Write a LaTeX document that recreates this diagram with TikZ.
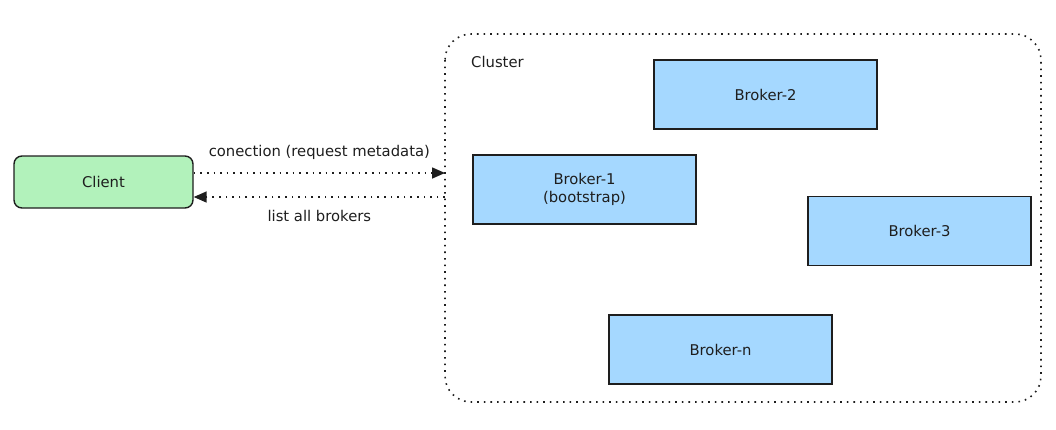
\documentclass[tikz,border=0pt]{standalone}
\usepackage{fontspec}
\setmainfont{DejaVu Sans}
\usetikzlibrary{arrows.meta}
\definecolor{brokerblue}{HTML}{A5D8FF}
\definecolor{clientgreen}{HTML}{B2F2BB}
\definecolor{inkc}{HTML}{1E1E1E}
\begin{document}
\begin{tikzpicture}[x=1pt,y=-1pt,
  txt/.style={font=\fontsize{14.8}{18}\selectfont, text=inkc},
  broker/.style={txt, draw=inkc, line width=1.4pt, fill=brokerblue, minimum width=223pt, minimum height=69pt, inner sep=0pt, align=center},
  clientbox/.style={txt, draw=inkc, line width=1.4pt, fill=clientgreen, rounded corners=8pt, minimum width=179pt, minimum height=52pt, inner sep=0pt},
  clusterbox/.style={draw=inkc, line width=1.6pt, dash pattern=on 1.6pt off 5pt, rounded corners=26pt},
  flow/.style={draw=inkc, line width=1.6pt, dash pattern=on 1.6pt off 5pt, -{Triangle[length=13pt,width=11pt]}},
  lbl/.style={txt, inner sep=0pt}
]
\useasboundingbox (0,0) rectangle (1056,429);
\draw[clusterbox] (445,34) rectangle (1041,402);
\node[lbl, anchor=west] (clusterlbl) at (471,62) {Cluster};
\node[clientbox] (client) at (103.5,182) {Client};
\node[broker] (b2) at (765.5,94.5) {Broker-2};
\node[broker] (b1) at (584.5,189.5) {Broker-1\\(bootstrap)};
\node[broker] (b3) at (919.5,231) {Broker-3};
\node[broker] (bn) at (720.5,349.5) {Broker-n};
\coordinate (cin) at (445,173);
\coordinate (cout) at (445,197);
\draw[flow] (client.east |- cin) -- (cin) node[lbl, midway, above=13pt] (l1) {conection (request metadata)};
\draw[flow] (cout) -- (client.east |- cout) node[lbl, midway, below=12pt] (l2) {list all brokers};
\end{tikzpicture}
\end{document}
